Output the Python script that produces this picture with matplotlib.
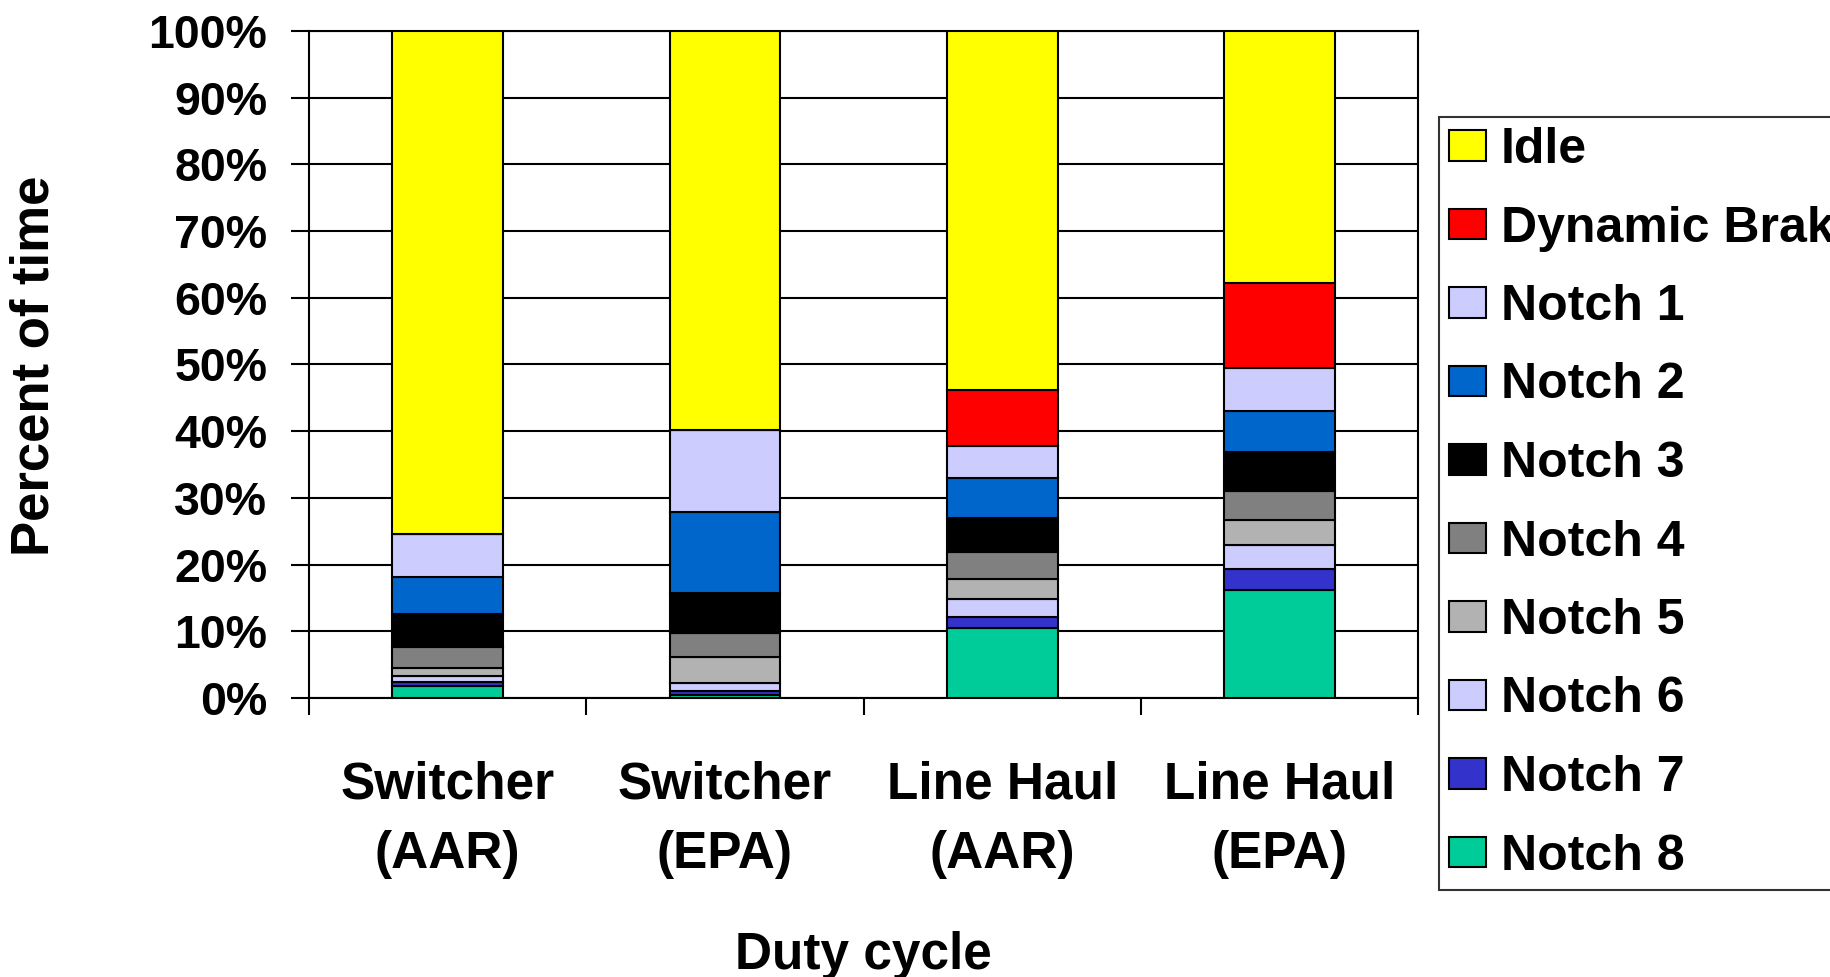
import numpy as np
import matplotlib
matplotlib.use('Agg')
import matplotlib.pyplot as plt

plt.rcParams['font.family'] = ['Liberation Sans', 'DejaVu Sans']
plt.rcParams['font.weight'] = 'bold'

# Dados (percentual do tempo em cada notch)
categorias = ['Switcher\n(AAR)', 'Switcher\n(EPA)', 'Line Haul\n(AAR)', 'Line Haul\n(EPA)']
series = ['Notch 8', 'Notch 7', 'Notch 6', 'Notch 5', 'Notch 4',
          'Notch 3', 'Notch 2', 'Notch 1', 'Dynamic Brake', 'Idle']
notch8 = [1.8, 0.5, 10.5, 16.2]
notch7 = [0.6, 0.5, 1.6, 3.2]
notch6 = [0.9, 1.2, 2.8, 3.6]
notch5 = [1.2, 3.9, 3.0, 3.7]
notch4 = [3.1, 3.6, 4.0, 4.3]
notch3 = [5.0, 6.0, 5.1, 5.9]
notch2 = [5.6, 12.2, 6.0, 6.1]
notch1 = [6.4, 12.3, 4.8, 6.5]
freio = [0.0, 0.0, 8.3, 12.7]
idle = [75.4, 59.8, 53.9, 37.8]
valores = [notch8, notch7, notch6, notch5, notch4, notch3, notch2, notch1, freio, idle]
cores = ['#00CC99', '#3333CC', '#CCCCFF', '#B2B2B2', '#808080',
         '#000000', '#0066CC', '#CCCCFF', '#FF0000', '#FFFF00']

fig = plt.figure(figsize=(18.3, 9.77), dpi=100)
ax = fig.add_axes([0.1689, 0.2856, 0.606, 0.6827])

x = np.arange(len(categorias))
base = np.zeros(len(categorias))
barras = []
for nome, vals, cor in zip(series, valores, cores):
    b = ax.bar(x, vals, width=0.4, bottom=base, color=cor,
               edgecolor='black', linewidth=1.5, label=nome, zorder=3)
    barras.append(b)
    base += np.array(vals)

ax.set_xlim(-0.5, 3.5)
ax.set_ylim(0, 100)
ax.set_yticks(np.arange(0, 101, 10))
ax.set_yticklabels([f'{v}%' for v in range(0, 101, 10)])
ax.yaxis.grid(True, color='black', linewidth=1.5, zorder=0)
ax.set_axisbelow(True)

ax.set_xticks(x)
ax.set_xticklabels(categorias, linespacing=1.55)
ax.set_xticks(np.arange(-0.5, 4, 1), minor=True)
ax.tick_params(axis='x', which='major', length=0, pad=45, labelsize=37)
ax.tick_params(axis='x', which='minor', length=12, width=1.5, direction='out')
ax.tick_params(axis='y', length=13, width=1.5, direction='out', pad=17, labelsize=33.5)

for s in ax.spines.values():
    s.set_linewidth(1.5)
    s.set_color('black')

fig.text(0.019, 0.626, 'Percent of time', rotation=90, ha='center', va='center',
         fontsize=38, fontweight='bold')
fig.text(0.472, 0.022, 'Duty cycle', ha='center', va='center',
         fontsize=37, fontweight='bold')

# legenda sai do lado direito da figura, como no original
leg = fig.legend(barras[::-1], series[::-1], loc='upper left',
                 bbox_to_anchor=(1439 / 1830, 1 - 117 / 977),
                 fontsize=36, frameon=True, fancybox=False, shadow=False,
                 borderpad=0.2, labelspacing=0.65, handlelength=0.74,
                 handleheight=0.56, handletextpad=0.3, borderaxespad=0)
leg.get_frame().set_edgecolor('black')
leg.get_frame().set_linewidth(1.5)

plt.savefig('out.png', dpi=100)
